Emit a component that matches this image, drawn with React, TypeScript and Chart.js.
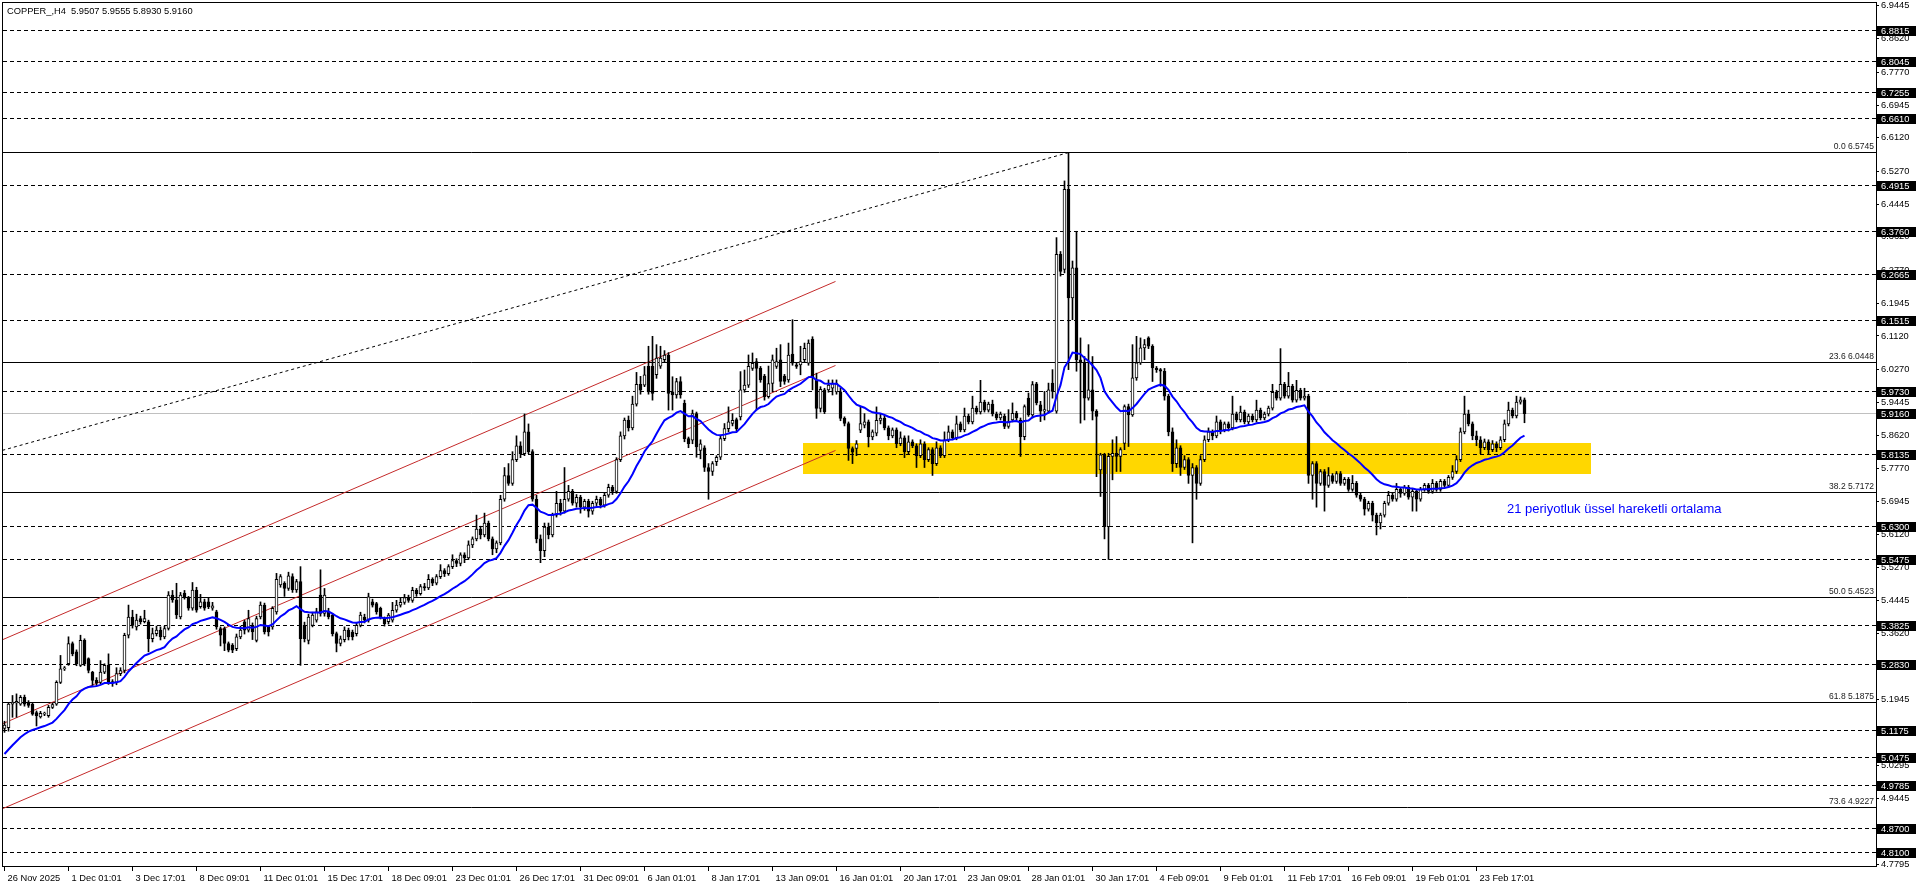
import React, { useEffect, useRef } from "react";
import { Chart, registerables } from "chart.js";

Chart.register(...registerables);

// ---------- DATA ----------
const chartTitle = "COPPER_,H4  5.9507 5.9555 5.8930 5.9160";

const xLabels = [
  "26 Nov 2025", "1 Dec 01:01", "3 Dec 17:01", "8 Dec 09:01", "11 Dec 01:01", "15 Dec 17:01",
  "18 Dec 09:01", "23 Dec 01:01", "26 Dec 17:01", "31 Dec 09:01", "6 Jan 01:01", "8 Jan 17:01",
  "13 Jan 09:01", "16 Jan 01:01", "20 Jan 17:01", "23 Jan 09:01", "28 Jan 01:01", "30 Jan 17:01",
  "4 Feb 09:01", "9 Feb 01:01", "11 Feb 17:01", "16 Feb 09:01", "19 Feb 01:01", "23 Feb 17:01",
];
const LABEL_STEP = 16; // bars between time labels

const opens = [
  5.122,5.124,5.183,5.186,5.183,5.200,5.185,5.183,5.162,5.151,
  5.158,5.154,5.175,5.183,5.238,5.272,5.285,5.336,5.315,5.281,
  5.344,5.298,5.264,5.243,5.238,5.264,5.281,5.240,5.238,5.260,
  5.268,5.357,5.403,5.378,5.399,5.391,5.391,5.348,5.361,5.370,
  5.353,5.374,5.458,5.446,5.403,5.463,5.450,5.425,5.471,5.429,
  5.441,5.441,5.425,5.416,5.374,5.374,5.336,5.332,5.323,5.353,
  5.391,5.370,5.382,5.344,5.403,5.433,5.378,5.378,5.416,5.484,
  5.488,5.475,5.505,5.471,5.492,5.382,5.344,5.382,5.395,5.458,
  5.412,5.416,5.408,5.361,5.336,5.346,5.370,5.365,5.361,5.382,
  5.403,5.395,5.441,5.437,5.425,5.399,5.391,5.395,5.420,5.433,
  5.440,5.452,5.445,5.470,5.462,5.480,5.476,5.498,5.488,5.505,
  5.520,5.512,5.530,5.545,5.538,5.560,5.552,5.585,5.600,5.625,
  5.610,5.640,5.600,5.575,5.590,5.700,5.760,5.740,5.800,5.835,
  5.815,5.870,5.820,5.700,5.600,5.570,5.630,5.610,5.660,5.690,
  5.670,5.700,5.720,5.690,5.705,5.680,5.695,5.670,5.690,5.700,
  5.685,5.710,5.730,5.720,5.800,5.860,5.900,5.880,5.940,5.990,
  5.988,6.035,6.035,6.014,6.036,6.052,6.064,5.971,5.963,5.997,
  5.942,5.853,5.849,5.916,5.823,5.830,5.780,5.770,5.795,5.806,
  5.853,5.878,5.891,5.901,5.908,5.976,5.988,6.030,6.047,6.030,
  6.011,5.959,5.992,6.035,6.052,6.011,6.001,6.066,6.039,6.039,
  6.052,6.043,6.104,6.001,5.929,5.976,5.976,5.980,5.971,5.971,
  5.904,5.891,5.828,5.828,5.874,5.887,5.895,5.857,5.867,5.899,
  5.905,5.880,5.860,5.875,5.840,5.855,5.820,5.845,5.835,5.810,
  5.840,5.800,5.825,5.790,5.830,5.810,5.850,5.870,5.855,5.890,
  5.875,5.910,5.895,5.930,5.920,5.945,5.925,5.940,5.915,5.905,
  5.909,5.884,5.900,5.917,5.900,5.858,5.955,5.913,5.991,5.938,
  5.922,5.922,5.993,5.922,6.318,6.280,6.482,6.208,6.284,6.052,
  6.044,5.955,5.976,5.922,5.774,5.812,5.631,5.808,5.816,5.808,
  5.841,5.934,5.913,6.006,6.044,6.082,6.107,6.086,6.031,6.027,
  6.023,5.960,5.870,5.790,5.830,5.780,5.800,5.760,5.780,5.740,
  5.800,5.850,5.870,5.860,5.895,5.875,5.890,5.880,5.915,5.900,
  5.920,5.895,5.910,5.900,5.925,5.905,5.915,5.930,5.970,5.955,
  5.990,5.960,5.985,5.950,5.975,5.955,5.960,5.760,5.790,5.740,
  5.770,5.735,5.760,5.745,5.765,5.740,5.750,5.725,5.740,5.710,
  5.700,5.675,5.690,5.660,5.640,5.660,5.690,5.710,5.700,5.725,
  5.715,5.730,5.705,5.720,5.700,5.725,5.735,5.720,5.740,5.725,
  5.745,5.735,5.755,5.770,5.800,5.870,5.915,5.890,5.860,5.850,
  5.830,5.845,5.825,5.840,5.830,5.850,5.890,5.925,5.910,5.945,
  5.9507,
];

const highs = [
  5.140,5.186,5.205,5.209,5.205,5.206,5.192,5.186,5.166,5.165,
  5.163,5.180,5.186,5.242,5.306,5.278,5.353,5.340,5.320,5.357,
  5.348,5.300,5.266,5.250,5.293,5.285,5.310,5.245,5.275,5.275,
  5.362,5.433,5.420,5.410,5.405,5.420,5.395,5.375,5.380,5.378,
  5.380,5.467,5.470,5.488,5.465,5.470,5.455,5.490,5.478,5.460,
  5.448,5.450,5.440,5.420,5.378,5.378,5.340,5.336,5.360,5.380,
  5.395,5.420,5.388,5.405,5.441,5.438,5.382,5.429,5.513,5.510,
  5.492,5.516,5.512,5.498,5.530,5.390,5.410,5.415,5.425,5.522,
  5.475,5.425,5.412,5.365,5.355,5.378,5.375,5.370,5.388,5.415,
  5.410,5.463,5.448,5.440,5.428,5.403,5.412,5.440,5.445,5.450,
  5.460,5.458,5.478,5.475,5.485,5.488,5.510,5.502,5.510,5.535,
  5.525,5.535,5.560,5.550,5.565,5.565,5.595,5.605,5.660,5.632,
  5.665,5.645,5.605,5.595,5.710,5.780,5.790,5.820,5.860,5.845,
  5.915,5.890,5.825,5.710,5.610,5.640,5.640,5.665,5.720,5.700,
  5.780,5.735,5.725,5.712,5.710,5.700,5.700,5.695,5.708,5.705,
  5.715,5.738,5.735,5.805,5.870,5.905,5.910,5.960,6.020,6.010,
  6.035,6.086,6.111,6.090,6.086,6.075,6.070,6.009,6.005,6.009,
  5.950,5.857,5.925,5.920,5.850,5.835,5.790,5.795,5.810,5.860,
  5.891,5.933,5.916,5.905,6.022,6.026,6.064,6.069,6.055,6.035,
  6.015,6.036,6.064,6.081,6.090,6.015,6.094,6.153,6.045,6.086,
  6.094,6.102,6.110,6.018,5.984,5.980,6.001,6.001,6.001,5.980,
  5.908,5.895,5.832,5.848,5.933,5.916,5.900,5.875,5.933,5.915,
  5.912,5.885,5.880,5.880,5.870,5.860,5.860,5.850,5.840,5.850,
  5.845,5.830,5.830,5.845,5.835,5.870,5.885,5.875,5.910,5.895,
  5.930,5.915,5.960,5.935,6.000,5.950,5.945,5.950,5.920,5.920,
  5.915,5.926,5.943,5.922,5.905,5.938,5.968,5.997,5.995,5.947,
  5.972,5.993,6.027,6.360,6.325,6.503,6.5745,6.301,6.376,6.107,
  6.060,6.090,6.060,5.926,5.816,5.816,5.816,5.850,5.858,5.830,
  5.938,5.940,6.090,6.111,6.107,6.103,6.110,6.090,6.035,6.030,
  6.030,5.965,5.880,5.850,5.835,5.810,5.805,5.790,5.785,5.810,
  5.860,5.880,5.875,5.910,5.900,5.895,5.895,5.960,5.920,5.935,
  5.925,5.915,5.915,5.950,5.930,5.920,5.935,5.990,5.975,6.080,
  5.995,6.020,5.990,6.000,5.980,5.980,5.965,5.795,5.795,5.775,
  5.775,5.780,5.765,5.770,5.770,5.755,5.755,5.760,5.745,5.715,
  5.705,5.695,5.695,5.665,5.665,5.695,5.720,5.715,5.740,5.730,
  5.735,5.735,5.725,5.725,5.730,5.740,5.740,5.750,5.745,5.750,
  5.750,5.760,5.785,5.810,5.880,5.960,5.925,5.895,5.872,5.858,
  5.852,5.850,5.848,5.845,5.858,5.900,5.945,5.930,5.960,5.958,
  5.9555,
];

const lows = [
  5.112,5.115,5.150,5.150,5.180,5.178,5.175,5.155,5.128,5.148,
  5.154,5.150,5.172,5.180,5.235,5.268,5.281,5.305,5.280,5.278,
  5.280,5.262,5.230,5.230,5.234,5.260,5.233,5.228,5.232,5.255,
  5.262,5.350,5.375,5.370,5.385,5.388,5.315,5.340,5.355,5.345,
  5.348,5.370,5.440,5.399,5.398,5.448,5.420,5.420,5.415,5.425,
  5.420,5.424,5.420,5.372,5.330,5.318,5.315,5.313,5.318,5.348,
  5.360,5.365,5.346,5.340,5.398,5.360,5.355,5.372,5.410,5.478,
  5.455,5.470,5.465,5.465,5.281,5.340,5.335,5.378,5.390,5.405,
  5.405,5.398,5.355,5.315,5.330,5.340,5.345,5.345,5.355,5.378,
  5.388,5.390,5.428,5.410,5.398,5.380,5.385,5.390,5.415,5.428,
  5.435,5.440,5.440,5.455,5.458,5.470,5.472,5.482,5.484,5.500,
  5.505,5.508,5.525,5.530,5.532,5.540,5.548,5.578,5.595,5.600,
  5.605,5.595,5.560,5.565,5.585,5.695,5.735,5.735,5.795,5.805,
  5.810,5.815,5.695,5.590,5.540,5.555,5.600,5.605,5.655,5.660,
  5.665,5.695,5.685,5.680,5.665,5.672,5.655,5.662,5.684,5.678,
  5.680,5.705,5.712,5.715,5.795,5.852,5.872,5.875,5.935,5.965,
  5.984,5.965,5.950,6.005,6.030,6.045,5.925,5.925,5.955,5.955,
  5.845,5.830,5.840,5.806,5.802,5.770,5.700,5.760,5.785,5.800,
  5.848,5.870,5.885,5.872,5.900,5.970,5.982,6.025,5.925,5.995,
  5.950,5.955,5.971,6.030,5.984,5.990,5.995,6.038,6.030,6.014,
  6.045,6.038,5.976,5.904,5.920,5.916,5.970,5.963,5.965,5.898,
  5.885,5.798,5.790,5.810,5.868,5.880,5.832,5.850,5.860,5.890,
  5.875,5.850,5.855,5.830,5.835,5.805,5.815,5.830,5.780,5.805,
  5.780,5.795,5.760,5.785,5.805,5.805,5.845,5.850,5.850,5.870,
  5.870,5.890,5.890,5.915,5.915,5.920,5.920,5.910,5.900,5.900,
  5.878,5.879,5.895,5.900,5.808,5.850,5.909,5.905,5.938,5.896,
  5.900,5.917,5.955,5.917,6.263,6.271,6.027,6.153,6.023,5.892,
  5.900,5.950,5.900,5.757,5.707,5.600,5.548,5.749,5.770,5.770,
  5.825,5.833,5.909,6.000,6.040,6.052,6.080,5.997,6.020,5.985,
  5.950,5.860,5.770,5.780,5.760,5.775,5.740,5.590,5.700,5.735,
  5.795,5.845,5.850,5.855,5.865,5.870,5.872,5.875,5.895,5.895,
  5.890,5.890,5.895,5.895,5.900,5.900,5.910,5.925,5.950,5.950,
  5.955,5.955,5.945,5.945,5.950,5.950,5.740,5.700,5.680,5.735,
  5.670,5.730,5.740,5.740,5.735,5.735,5.720,5.720,5.705,5.695,
  5.660,5.670,5.645,5.610,5.625,5.655,5.685,5.695,5.695,5.705,
  5.710,5.700,5.670,5.670,5.695,5.720,5.715,5.715,5.720,5.720,
  5.730,5.730,5.750,5.765,5.795,5.865,5.885,5.850,5.835,5.815,
  5.825,5.815,5.820,5.820,5.825,5.845,5.885,5.905,5.905,5.940,
  5.8930,
];

const closes = [
  5.130,5.183,5.188,5.190,5.200,5.183,5.180,5.158,5.154,5.160,
  5.159,5.175,5.182,5.238,5.272,5.275,5.336,5.310,5.285,5.344,
  5.285,5.268,5.243,5.236,5.264,5.281,5.238,5.236,5.260,5.268,
  5.357,5.403,5.382,5.395,5.391,5.399,5.348,5.361,5.370,5.353,
  5.374,5.458,5.446,5.408,5.458,5.454,5.425,5.471,5.420,5.441,
  5.425,5.429,5.431,5.378,5.357,5.336,5.319,5.319,5.353,5.370,
  5.370,5.399,5.365,5.399,5.433,5.365,5.365,5.425,5.498,5.505,
  5.475,5.507,5.471,5.492,5.348,5.348,5.403,5.408,5.416,5.412,
  5.458,5.403,5.361,5.336,5.348,5.370,5.353,5.353,5.382,5.408,
  5.395,5.454,5.433,5.416,5.403,5.386,5.408,5.420,5.433,5.440,
  5.452,5.445,5.470,5.462,5.480,5.476,5.498,5.488,5.505,5.520,
  5.512,5.530,5.545,5.538,5.560,5.552,5.585,5.600,5.625,5.610,
  5.640,5.600,5.575,5.590,5.700,5.760,5.740,5.800,5.835,5.815,
  5.870,5.820,5.700,5.600,5.570,5.630,5.610,5.660,5.690,5.670,
  5.700,5.720,5.690,5.705,5.680,5.695,5.670,5.690,5.700,5.685,
  5.710,5.730,5.720,5.800,5.860,5.900,5.880,5.940,5.990,5.975,
  6.014,5.971,5.967,6.056,6.056,6.064,5.967,5.963,5.997,5.963,
  5.853,5.840,5.916,5.832,5.840,5.780,5.770,5.790,5.806,5.853,
  5.878,5.895,5.899,5.878,5.976,5.988,6.035,6.043,6.030,6.001,
  5.959,5.992,6.052,6.047,5.997,5.997,6.064,6.043,6.035,6.047,
  6.081,6.094,6.009,5.929,5.977,5.921,5.988,5.992,5.992,5.904,
  5.891,5.828,5.819,5.840,5.891,5.895,5.857,5.870,5.899,5.905,
  5.880,5.860,5.875,5.840,5.855,5.820,5.845,5.835,5.810,5.840,
  5.800,5.825,5.790,5.830,5.810,5.850,5.870,5.855,5.890,5.875,
  5.910,5.895,5.930,5.920,5.945,5.925,5.940,5.915,5.905,5.915,
  5.884,5.896,5.917,5.905,5.858,5.934,5.913,5.989,5.943,5.922,
  5.926,5.976,5.972,6.318,6.275,6.482,6.208,6.284,6.052,6.044,
  5.955,5.976,5.922,5.909,5.812,5.631,5.808,5.816,5.808,5.825,
  5.934,5.913,6.006,6.044,6.082,6.090,6.086,6.031,6.027,6.023,
  5.960,5.870,5.790,5.830,5.780,5.800,5.760,5.780,5.740,5.800,
  5.850,5.870,5.860,5.895,5.875,5.890,5.880,5.915,5.900,5.920,
  5.895,5.910,5.900,5.925,5.905,5.915,5.930,5.970,5.955,5.990,
  5.960,5.985,5.950,5.975,5.955,5.960,5.760,5.790,5.740,5.770,
  5.735,5.760,5.745,5.765,5.740,5.750,5.725,5.740,5.710,5.700,
  5.675,5.690,5.660,5.640,5.660,5.690,5.710,5.700,5.725,5.715,
  5.730,5.705,5.720,5.700,5.725,5.735,5.720,5.740,5.725,5.745,
  5.735,5.755,5.770,5.800,5.870,5.915,5.890,5.860,5.850,5.830,
  5.845,5.825,5.840,5.830,5.850,5.890,5.925,5.910,5.945,5.951,
  5.9160,
];

// 21-period exponential moving average of the closes (seeded with the value before the first bar)
const EMA_PERIOD = 21;
const EMA_SEED = 5.05;

// right price axis
const yTickValues = [
  6.9445, 6.8620, 6.7770, 6.6945, 6.6120, 6.5270, 6.4445, 6.3620, 6.2770, 6.1945, 6.1120,
  6.0270, 5.9445, 5.8620, 5.7770, 5.6945, 5.6120, 5.5270, 5.4445, 5.3620, 5.2770, 5.1945,
  5.1120, 5.0295, 4.9445, 4.8620, 4.7795,
];
const yMin = 4.7748;
const yMax = 6.9544;

// dashed horizontal levels (with black price tags)
const dashedLevels = [
  6.8815, 6.8045, 6.7255, 6.6610, 6.4915, 6.3760, 6.2665, 6.1515, 5.9730, 5.8135,
  5.6300, 5.5475, 5.3825, 5.2830, 5.1175, 5.0475, 4.9785, 4.8700, 4.8100,
];
const currentPrice = 5.916;

// Fibonacci retracement levels
const fibRatios = ["0.0", "23.6", "38.2", "50.0", "61.8", "73.6"];
const fibValues = [6.5745, 6.0448, 5.7172, 5.4523, 5.1875, 4.9227];

// trend lines: [bar1, price1, bar2, price2]
const channelLines = [
  [-2, 5.3391, 207.75, 6.2494],
  [-2, 5.1272, 207.75, 6.0375],
  [-2, 4.9128, 207.75, 5.8231],
];
const dottedLine = [-2, 5.8192, 266, 6.5745];

// yellow zone: bars and prices
const zoneBars = [199.55, 396.6];
const zonePrices = [5.763, 5.843];

const annotationText = "21 periyotluk üssel hareketli ortalama";
const annotationBar = 375.6;
const annotationPrice = 5.675;

// ---------- CHART ----------
const FONT = "'Liberation Sans', Arial, sans-serif";

function computeEma(values: number[], period: number, seed: number) {
  const k = 2 / (period + 1);
  const out: number[] = [];
  let prev = seed;
  for (const c of values) {
    prev = prev + (c - prev) * k;
    out.push(prev);
  }
  return out;
}

const overlayPlugin = {
  id: "mt4overlay",
  beforeDatasetsDraw(chart: any) {
    const { ctx, chartArea: a, scales } = chart;
    const x = scales.x;
    const y = scales.y;
    ctx.save();
    ctx.beginPath();
    ctx.rect(a.left, a.top, a.right - a.left, a.bottom - a.top);
    ctx.clip();

    // yellow zone
    const zx1 = Math.round(x.getPixelForValue(zoneBars[0]));
    const zx2 = Math.round(x.getPixelForValue(zoneBars[1]));
    const zy1 = Math.round(y.getPixelForValue(zonePrices[1]));
    const zy2 = Math.round(y.getPixelForValue(zonePrices[0]));
    ctx.fillStyle = "#FFD700";
    ctx.fillRect(zx1, zy1, zx2 - zx1, zy2 - zy1);

    const hline = (v: number, color: string, dash: number[]) => {
      const yy = Math.floor(y.getPixelForValue(v)) + 0.5;
      ctx.strokeStyle = color;
      ctx.lineWidth = 1;
      ctx.setLineDash(dash);
      ctx.beginPath();
      ctx.moveTo(a.left, yy);
      ctx.lineTo(a.right, yy);
      ctx.stroke();
    };
    hline(currentPrice, "#c0c0c0", []);
    dashedLevels.forEach((v) => hline(v, "#000000", [4, 3]));
    fibValues.forEach((v) => hline(v, "#000000", []));

    const seg = (l: number[], color: string, dash: number[]) => {
      ctx.strokeStyle = color;
      ctx.lineWidth = 1;
      ctx.setLineDash(dash);
      ctx.beginPath();
      ctx.moveTo(x.getPixelForValue(l[0]), y.getPixelForValue(l[1]));
      ctx.lineTo(x.getPixelForValue(l[2]), y.getPixelForValue(l[3]));
      ctx.stroke();
    };
    channelLines.forEach((l) => seg(l, "#c42a2a", []));
    seg(dottedLine, "#000000", [3, 3]);
    ctx.restore();
  },
  afterDraw(chart: any) {
    const { ctx, chartArea: a, scales } = chart;
    const x = scales.x;
    const y = scales.y;
    ctx.save();
    ctx.setLineDash([]);
    // plot frame
    ctx.strokeStyle = "#000";
    ctx.lineWidth = 1;
    ctx.strokeRect(Math.floor(a.left) - 0.5, Math.floor(a.top) + 0.5, Math.round(a.right - a.left) + 1, Math.round(a.bottom - a.top));

    // fib labels
    ctx.font = `8.5px ${FONT}`;
    ctx.fillStyle = "#1a1a1a";
    ctx.textAlign = "right";
    ctx.textBaseline = "bottom";
    fibValues.forEach((v, i) => {
      const yy = Math.floor(y.getPixelForValue(v));
      ctx.fillText(`${fibRatios[i]} ${v.toFixed(4)}`, a.right - 2, yy - 1);
    });

    // price tags
    ctx.font = `9.3px ${FONT}`;
    ctx.textAlign = "left";
    ctx.textBaseline = "middle";
    const tag = (v: number) => {
      const yy = Math.floor(y.getPixelForValue(v));
      ctx.fillStyle = "#000";
      ctx.fillRect(Math.round(a.right) + 1, yy - 4, 40, 10);
      ctx.fillStyle = "#fff";
      ctx.fillText(v.toFixed(4), Math.round(a.right) + 5, yy + 1);
    };
    dashedLevels.forEach(tag);
    tag(currentPrice);

    // title
    ctx.fillStyle = "#000";
    ctx.textAlign = "left";
    ctx.textBaseline = "middle";
    ctx.fillText(chartTitle, 7, 11);

    // annotation
    ctx.font = `13px ${FONT}`;
    ctx.fillStyle = "#0000ff";
    ctx.fillText(annotationText, x.getPixelForValue(annotationBar), y.getPixelForValue(annotationPrice));
    ctx.restore();
  },
};

export default function App() {
  const canvasRef = useRef<HTMLCanvasElement | null>(null);

  useEffect(() => {
    const canvas = canvasRef.current;
    if (!canvas) return;
    Chart.defaults.font.family = FONT;
    Chart.defaults.color = "#000";

    const ema = computeEma(closes, EMA_PERIOD, EMA_SEED);
    const wickData = closes.map((_, i) => ({ x: i, y: [lows[i], highs[i]] }));
    const bodyData = closes.map((c, i) => ({ x: i, y: [opens[i], c] }));
    const bodyColors = closes.map((c, i) => (c >= opens[i] ? "#ffffff" : "#000000"));
    const emaData = ema.map((v, i) => ({ x: i, y: v }));

    const chart = new Chart(canvas, {
      type: "bar",
      data: {
        datasets: [
          {
            type: "line",
            label: "EMA 21",
            data: emaData,
            borderColor: "#0000ff",
            borderWidth: 2,
            pointRadius: 0,
            tension: 0,
            order: 0,
          } as any,
          {
            label: "body",
            data: bodyData,
            backgroundColor: bodyColors,
            borderColor: "#000000",
            borderWidth: 1,
            borderSkipped: false,
            barThickness: 3,
            minBarLength: 1,
            grouped: false,
            order: 1,
          } as any,
          {
            label: "wick",
            data: wickData,
            backgroundColor: "#000000",
            borderWidth: 0,
            barThickness: 1,
            grouped: false,
            order: 2,
          } as any,
        ],
      },
      options: {
        animation: false,
        responsive: false,
        maintainAspectRatio: false,
        devicePixelRatio: 1,
        events: [],
        layout: { padding: { left: 3, top: 2, right: 0, bottom: 0 } },
        plugins: { legend: { display: false }, tooltip: { enabled: false }, title: { display: false } },
        scales: {
          x: {
            type: "linear",
            position: "bottom",
            min: -0.375,
            max: 467.875,
            bounds: "data",
            offset: false,
            afterBuildTicks: (s: any) => {
              s.ticks = xLabels.map((_, k) => ({ value: k * LABEL_STEP }));
            },
            afterFit: (s: any) => {
              s.height = 22;
              s.paddingLeft = 0;
              s.paddingRight = 0;
              s.paddingTop = 0;
              s.paddingBottom = 0;
            },
            ticks: {
              callback: (v: any) => xLabels[Math.round(Number(v) / LABEL_STEP)] ?? "",
              align: "start",
              labelOffset: 3,
              maxRotation: 0,
              minRotation: 0,
              autoSkip: false,
              padding: 2,
              font: { size: 9.3, family: FONT },
              color: "#000",
            },
            grid: { drawOnChartArea: false, drawTicks: true, tickLength: 5, color: "#000", offset: false },
            border: { display: true, color: "#000" },
          } as any,
          y: {
            type: "linear",
            position: "right",
            min: yMin,
            max: yMax,
            bounds: "data",
            afterBuildTicks: (s: any) => {
              s.ticks = yTickValues.map((v) => ({ value: v }));
            },
            afterFit: (s: any) => {
              s.width = 40;
              s.paddingTop = 0;
              s.paddingBottom = 0;
              s.paddingLeft = 0;
              s.paddingRight = 0;
            },
            ticks: {
              callback: (v: any) => Number(v).toFixed(4),
              autoSkip: false,
              padding: 2,
              crossAlign: "near",
              font: { size: 9.3, family: FONT },
              color: "#000",
            },
            grid: { drawOnChartArea: false, drawTicks: true, tickLength: 3, color: "#000" },
            border: { display: true, color: "#000" },
          } as any,
        },
      } as any,
      plugins: [overlayPlugin],
    });

    return () => {
      chart.destroy();
    };
  }, []);

  return (
    <div style={{ position: "fixed", left: 0, top: 0, width: 1916, height: 888, background: "#ffffff" }}>
      <canvas ref={canvasRef} width={1916} height={888} style={{ width: 1916, height: 888, display: "block" }} />
    </div>
  );
}
